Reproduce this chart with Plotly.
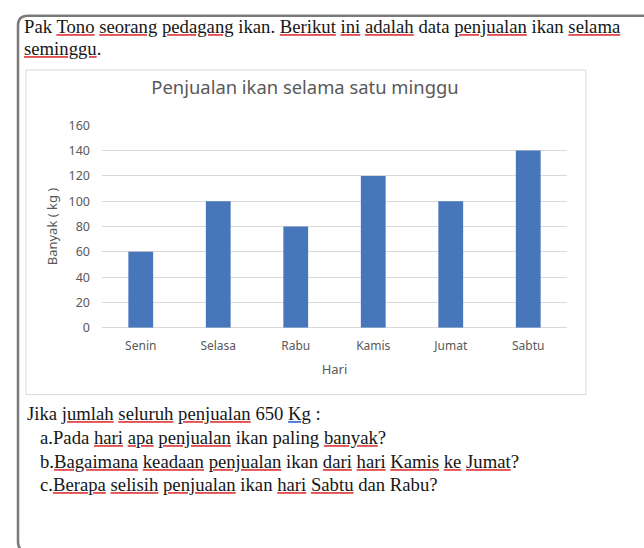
import plotly.graph_objects as go

# ---- data ----
days = ["Senin", "Selasa", "Rabu", "Kamis", "Jumat", "Sabtu"]
sales_kg = [60, 100, 80, 120, 100, 140]
y_ticks = [0, 20, 40, 60, 80, 100, 120, 140, 160]

chart_title = "Penjualan ikan selama satu minggu"
x_title = "Hari"
y_title = "Banyak ( kg )"

W, H = 644, 548


def px(x):
    return x / W


def py(y):
    return 1 - y / H


# Each line is a list of (word/segment, squiggle colour or None)
RED = "#e05050"
BLUE = "#4a78d8"
lines = [
    ([("Pak ", None), ("Tono", RED), (" ", None), ("seorang", RED), (" ", None),
      ("pedagang", RED), (" ikan. ", None), ("Berikut", RED), (" ", None), ("ini", RED),
      (" ", None), ("adalah", RED), (" data ", None), ("penjualan", RED), (" ikan ", None),
      ("selama", RED)], 22, 18),
    ([("seminggu", RED), (".", None)], 22, 41),
    ([("Jika ", None), ("jumlah", RED), (" ", None), ("seluruh", RED), (" ", None),
      ("penjualan", RED), (" 650 ", None), ("Kg", BLUE), (" :", None)], 25, 417),
    ([("a.Pada ", None), ("hari", RED), (" ", None), ("apa", RED), (" ", None),
      ("penjualan", RED), (" ikan paling ", None), ("banyak", RED), ("?", None)], 38, 442),
    ([("b.", None), ("Bagaimana", RED), (" ", None), ("keadaan", RED), (" ", None),
      ("penjualan", RED), (" ikan ", None), ("dari", RED), (" ", None), ("hari", RED),
      (" ", None), ("Kamis", RED), (" ", None), ("ke", RED), (" ", None), ("Jumat", RED),
      ("?", None)], 38, 467),
    ([("c.", None), ("Berapa", RED), (" ", None), ("selisih", RED), (" ", None),
      ("penjualan", RED), (" ikan ", None), ("hari", RED), (" ", None), ("Sabtu", RED),
      (" dan Rabu?", None)], 38, 491),
]

fig = go.Figure()
fig.add_trace(go.Bar(
    x=days, y=sales_kg,
    marker=dict(color="#4777ba", line=dict(width=0)),
    hoverinfo="x+y",
))

serif = "Liberation Serif, Times New Roman, serif"
sans = "Noto Sans, Open Sans, sans-serif"
TXT_SIZE = 18.7
INK = "#161616"

annotations = []
for segs, x0, yc in lines:
    txt = "".join(
        ("<span style='text-decoration:underline;fill:%s;'>"
         "<span style='fill:%s;'>%s</span></span>" % (c, INK, s)) if c else s
        for s, c in segs)
    annotations.append(dict(
        text=txt, x=px(x0), y=py(yc), xref="paper", yref="paper",
        xanchor="left", yanchor="middle", showarrow=False, align="left",
        font=dict(family=serif, size=TXT_SIZE, color=INK),
    ))

# outer rounded frame (document border)
L, T, R, B, r = 18, 7, 680, 560, 10
frame_path = (
    f"M {px(R)},{py(T)} L {px(L + r)},{py(T)} "
    f"Q {px(L)},{py(T)} {px(L)},{py(T + r)} "
    f"L {px(L)},{py(B - r)} Q {px(L)},{py(B)} {px(L + r)},{py(B)} "
    f"L {px(R)},{py(B)}"
)

shapes = [
    dict(type="rect", xref="paper", yref="paper",
         x0=px(26), x1=px(586), y0=py(398), y1=py(63),
         line=dict(color="#d9d9d9", width=1), fillcolor="white", layer="below"),
    dict(type="path", xref="paper", yref="paper", path=frame_path,
         line=dict(color="#7a7a7a", width=2.5), layer="above"),
]

fig.update_layout(
    width=W, height=H, autosize=False,
    margin=dict(l=0, r=0, t=0, b=0),
    paper_bgcolor="white", plot_bgcolor="rgba(0,0,0,0)",
    showlegend=False,
    bargap=0.68,
    title=dict(text=chart_title, x=px(305), y=py(81), xref="paper", yref="paper",
               xanchor="center", yanchor="middle",
               font=dict(family=sans, size=18.4, color="#595959")),
    xaxis=dict(
        domain=[px(102), px(567)],
        showgrid=False, showline=False, zeroline=False, ticks="",
        ticklabelstandoff=9,
        tickfont=dict(family=sans, size=12, color="#595959"),
        title=dict(text=x_title, standoff=12,
                   font=dict(family=sans, size=13, color="#595959")),
        fixedrange=True,
    ),
    yaxis=dict(
        domain=[py(329), py(120)],
        range=[0, 160], tickvals=y_ticks,
        showgrid=True, gridcolor="#d9d9d9", gridwidth=1,
        zeroline=True, zerolinecolor="#d9d9d9", zerolinewidth=1,
        showline=False, ticks="", ticklabelstandoff=11,
        tickfont=dict(family=sans, size=12.5, color="#595959"),
        title=dict(text=y_title, standoff=7,
                   font=dict(family=sans, size=13, color="#595959")),
        fixedrange=True,
    ),
    annotations=annotations,
    shapes=shapes,
)

fig.write_html("out.html")
